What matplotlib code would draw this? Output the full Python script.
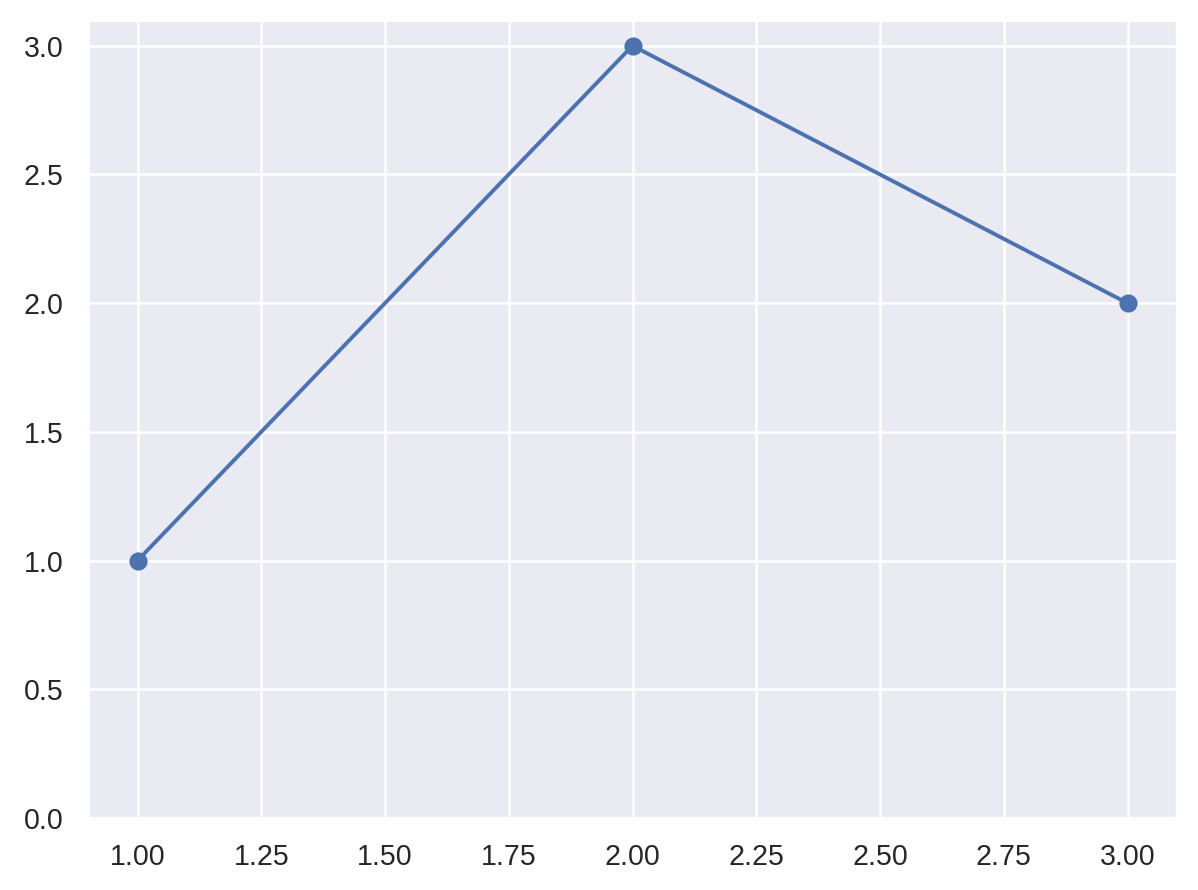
import matplotlib
matplotlib.use("Agg")
import matplotlib.pyplot as plt
import seaborn as sns

x = [1, 2, 3]
y = [1, 3, 2]

sns.set_theme(style="darkgrid")
plt.rcParams["font.family"] = ["Arial", "Liberation Sans", "DejaVu Sans"]

dpi = 187
fig = plt.figure(figsize=(1198 / dpi, 890 / dpi), dpi=dpi)
# axes box placed to match the reference pixels
ax = fig.add_axes([88 / 1198, 1 - 818 / 890, (1177 - 88) / 1198, (818 - 20) / 890])
ax.plot(x, y, marker="o")
ax.set_ylim(bottom=0)

fig.savefig("out.png", dpi=dpi)
